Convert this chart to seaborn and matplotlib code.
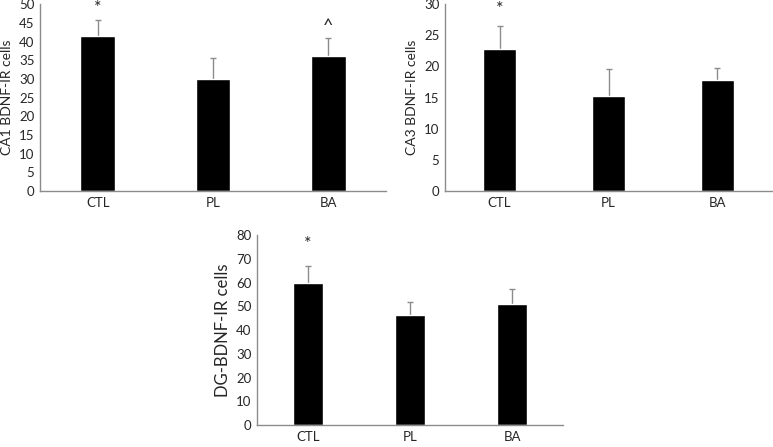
import numpy as np
import pandas as pd
import matplotlib
matplotlib.use('Agg')
import matplotlib.pyplot as plt
import seaborn as sns

groups = ['CTL', 'PL', 'BA']

ca1_mean = [41.5, 30.0, 36.0]
ca1_err = [4.2, 5.5, 5.0]
ca1_marks = ['*', '', '^']

ca3_mean = [22.8, 15.3, 17.8]
ca3_err = [3.7, 4.3, 2.0]
ca3_marks = ['*', '', '']

dg_mean = [60.0, 46.5, 50.8]
dg_err = [7.0, 5.5, 6.5]
dg_marks = ['*', '', '']

sns.set_style('white')
plt.rcParams['font.family'] = ['Lato', 'DejaVu Sans']

fig = plt.figure(figsize=(7.73, 4.47), dpi=100)
ax1 = fig.add_axes([0.0517, 0.5727, 0.4476, 0.418])
ax2 = fig.add_axes([0.5757, 0.5727, 0.423, 0.418])
ax3 = fig.add_axes([0.3325, 0.0492, 0.396, 0.425])


def panel(ax, means, errs, marks, label, ymax, step, gap, lsize):
    df = pd.DataFrame({'group': groups, 'value': means})
    sns.barplot(data=df, x='group', y='value', color='black', width=0.3,
                saturation=1, ax=ax, zorder=2)
    eb = ax.errorbar(range(len(groups)), means,
                     yerr=[np.zeros(len(errs)), errs], fmt='none',
                     ecolor='#8c8c8c', elinewidth=1, capsize=2.5,
                     capthick=1, zorder=1)
    # keep only the upper caps
    eb[1][0].remove()
    for i, m in enumerate(marks):
        if m:
            ax.annotate(m, (i, means[i] + errs[i]), xytext=(0, gap),
                        textcoords='offset pixels', ha='center',
                        va='center', fontsize=13, annotation_clip=False)
    ax.set_xlim(-0.5, 2.5)
    ax.set_ylim(0, ymax)
    ax.set_yticks(np.arange(0, ymax + 1, step))
    ax.set_xlabel('')
    ax.set_ylabel(label, fontsize=lsize, labelpad=4)
    ax.tick_params(axis='both', length=0, labelsize=9.5, pad=4)
    for s in ['top', 'right']:
        ax.spines[s].set_visible(False)
    for s in ['left', 'bottom']:
        ax.spines[s].set_color('#8c8c8c')
        ax.spines[s].set_linewidth(1)
    ax.patch.set_alpha(0)


panel(ax1, ca1_mean, ca1_err, ca1_marks, 'CA1 BDNF-IR cells', 50, 5, 12, 10)
panel(ax2, ca3_mean, ca3_err, ca3_marks, 'CA3 BDNF-IR cells', 30, 5, 17, 10)
panel(ax3, dg_mean, dg_err, dg_marks, 'DG-BDNF-IR cells', 80, 10, 22, 12)

fig.savefig('out.png', dpi=100)
